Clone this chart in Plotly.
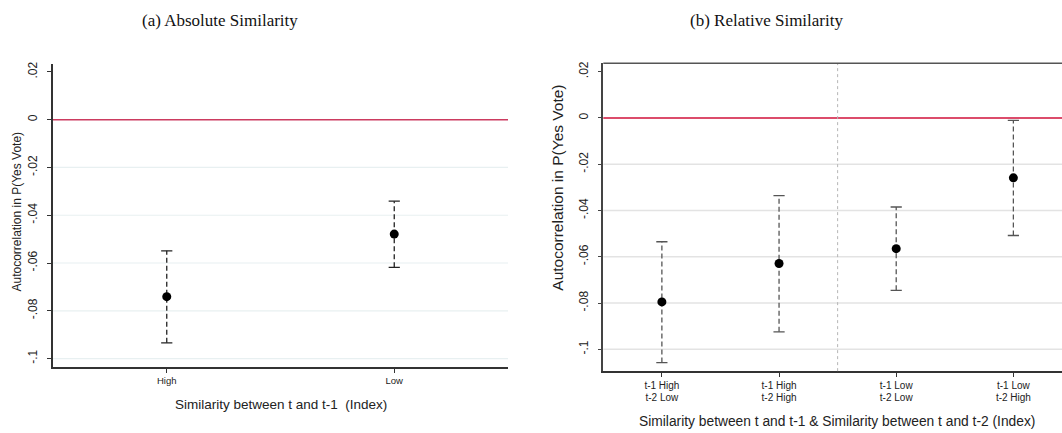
import plotly.graph_objects as go

# Panel (a): absolute similarity between t and t-1
abs_labels = ["High", "Low"]
abs_est = [-0.0741, -0.0479]
abs_lo = [-0.0934, -0.0618]
abs_hi = [-0.0549, -0.0341]

# Panel (b): relative similarity, t-1 vs t-2 (two-line category labels)
rel_labels_t1 = ["t-1 High", "t-1 High", "t-1 Low", "t-1 Low"]
rel_labels_t2 = ["t-2 Low", "t-2 High", "t-2 Low", "t-2 High"]
rel_est = [-0.0795, -0.0629, -0.0565, -0.0259]
rel_lo = [-0.1057, -0.0924, -0.0745, -0.0508]
rel_hi = [-0.0535, -0.0336, -0.0385, -0.0011]

ytick_vals = [0.02, 0, -0.02, -0.04, -0.06, -0.08, -0.1]
ytick_text = [".02", "0", "-.02", "-.04", "-.06", "-.08", "-.1"]
grid_vals = [-0.02, -0.04, -0.06, -0.08, -0.1]

W, H = 1062, 433
SANS = "Liberation Sans, Arial, sans-serif"
SERIF = "Liberation Serif, Times New Roman, serif"

fig = go.Figure()


def add_panel(xaxis, yaxis, est, lo, hi, bar_color):
    xs = list(range(1, len(est) + 1))
    # dashed confidence interval segments
    for x, l, h in zip(xs, lo, hi):
        fig.add_trace(go.Scatter(
            x=[x, x], y=[l, h], mode="lines",
            line=dict(color=bar_color, width=1.3, dash="5px,3px"),
            xaxis=xaxis, yaxis=yaxis, hoverinfo="skip", showlegend=False))
    # caps at both ends
    fig.add_trace(go.Scatter(
        x=xs + xs, y=lo + hi, mode="markers",
        marker=dict(symbol="line-ew-open", size=8, color=bar_color,
                    line=dict(color=bar_color, width=1.3)),
        xaxis=xaxis, yaxis=yaxis, hoverinfo="skip", showlegend=False))
    # point estimates
    fig.add_trace(go.Scatter(
        x=xs, y=est, mode="markers",
        marker=dict(symbol="circle", size=9, color="black"),
        xaxis=xaxis, yaxis=yaxis, showlegend=False))


add_panel("x", "y", abs_est, abs_lo, abs_hi, "#222222")
add_panel("x2", "y2", rel_est, rel_lo, rel_hi, "#555555")

rel_ticks = list(range(1, len(rel_est) + 1))
# invisible carrier so the second label row (xaxis3) gets drawn
fig.add_trace(go.Scatter(
    x=rel_ticks, y=rel_est, mode="markers", marker=dict(opacity=0),
    xaxis="x3", yaxis="y2", hoverinfo="skip", showlegend=False))

shapes = []
# horizontal grid lines
for g in grid_vals:
    shapes.append(dict(type="line", xref="x domain", yref="y", x0=0, x1=1,
                       y0=g, y1=g, line=dict(color="#e8f0f1", width=1.2),
                       layer="below"))
    shapes.append(dict(type="line", xref="x2 domain", yref="y2", x0=0, x1=1,
                       y0=g, y1=g, line=dict(color="#e3e3e3", width=1.5),
                       layer="below"))
# zero reference lines
shapes.append(dict(type="line", xref="x domain", yref="y", x0=0, x1=1,
                   y0=0, y1=0, line=dict(color="#cc3b60", width=1.5)))
shapes.append(dict(type="line", xref="x2 domain", yref="y2", x0=0, x1=1,
                   y0=0, y1=0, line=dict(color="#d0103a", width=1.5)))
# group separator in panel (b)
shapes.append(dict(type="line", xref="x2", yref="y2 domain", x0=2.5, x1=2.5,
                   y0=0, y1=1, line=dict(color="#b5b5b5", width=1, dash="dot")))
# top frame of panel (b)
shapes.append(dict(type="line", xref="x2 domain", yref="y2 domain", x0=0, x1=1,
                   y0=1, y1=1, line=dict(color="#555555", width=1.5)))

yaxis_common = dict(
    tickvals=ytick_vals, ticktext=ytick_text, tickangle=-90,
    showgrid=False, zeroline=False, showline=True, linewidth=1.5,
    ticks="outside", ticklen=4, tickwidth=1, ticklabelstandoff=5,
    tickfont=dict(family=SANS, size=12, color="#222"))


def note(text, x, y, size, family=SANS, angle=0, color="#222"):
    return dict(text=text, xref="paper", yref="paper", x=x / W, y=1 - y / H,
                xanchor="center", yanchor="middle", showarrow=False,
                textangle=angle, font=dict(family=family, size=size, color=color))


rel_domain = [603.3 / W, 1.0]
rel_range = [0.5, 4.415]

fig.update_layout(
    width=W, height=H,
    margin=dict(l=0, r=0, t=0, b=0),
    paper_bgcolor="white", plot_bgcolor="white",
    shapes=shapes,
    xaxis=dict(domain=[53 / W, 508 / W], range=[0.5, 2.5],
               tickvals=list(range(1, len(abs_est) + 1)), ticktext=abs_labels,
               showgrid=False, zeroline=False, showline=True,
               linecolor="#333", linewidth=1.5, ticks="outside", ticklen=4,
               tickcolor="#333", tickfont=dict(family=SANS, size=9.5, color="#222"),
               anchor="y"),
    yaxis=dict(domain=[1 - 366.7 / H, 1 - 61.7 / H], range=[-0.1036, 0.0232],
               linecolor="#333", tickcolor="#333", anchor="x", **yaxis_common),
    xaxis2=dict(domain=rel_domain, range=rel_range,
                tickvals=rel_ticks, ticktext=rel_labels_t1,
                showgrid=False, zeroline=False, showline=True,
                linecolor="#333", linewidth=1.5, ticks="outside", ticklen=4,
                tickcolor="#333", tickfont=dict(family=SANS, size=10, color="#222"),
                anchor="y2"),
    # second line of the category labels, set just below the first
    xaxis3=dict(domain=rel_domain, range=rel_range, overlaying="x2",
                tickvals=rel_ticks, ticktext=rel_labels_t2,
                showgrid=False, zeroline=False, showline=False, ticks="",
                ticklabelstandoff=19,
                tickfont=dict(family=SANS, size=10, color="#222"),
                anchor="y2", side="bottom"),
    yaxis2=dict(domain=[1 - 370.7 / H, 1 - 60.7 / H], range=[-0.1094, 0.0236],
                linecolor="#444", tickcolor="#444", anchor="x2", **yaxis_common),
    annotations=[
        note("(a) Absolute Similarity", 220, 18, 17, SERIF, color="#111"),
        note("(b) Relative Similarity", 766, 18, 17, SERIF, color="#111"),
        note("Autocorrelation in P(Yes Vote)", 17, 210, 12, angle=-90),
        note("Autocorrelation in P(Yes Vote)", 558, 186, 15.5, angle=-90),
        note("Similarity between t and t-1  (Index)", 281, 404, 13.5),
        note("Similarity between t and t-1 &amp; Similarity between t and t-2 (Index)",
             837, 421.5, 13.8),
    ],
)

fig.write_html("out.html")
